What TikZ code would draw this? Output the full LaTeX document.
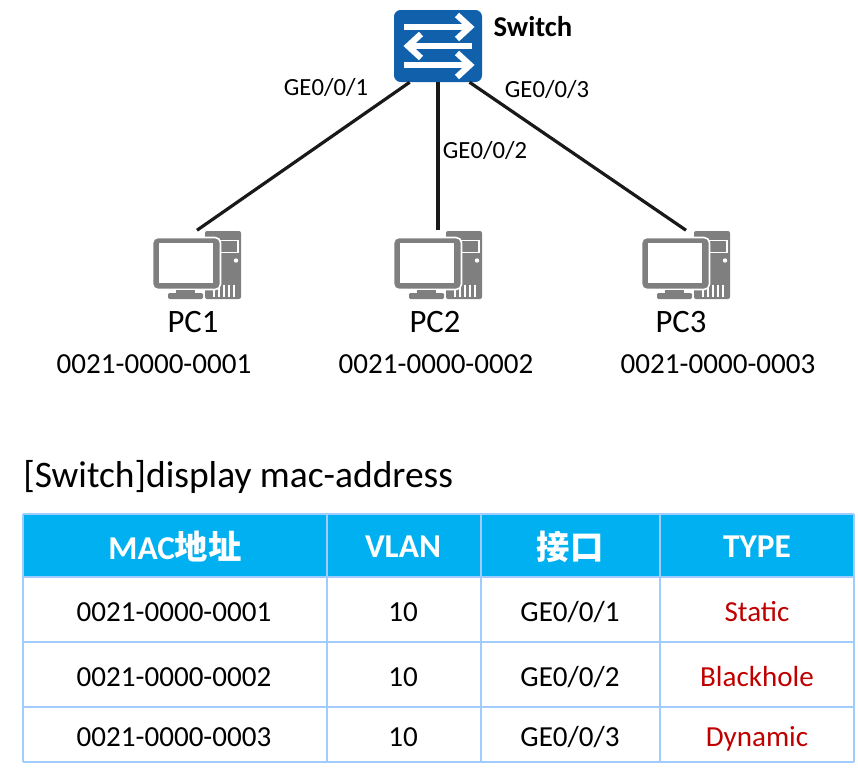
\documentclass[tikz,border=0pt]{standalone}
\usepackage{fontspec}
\setmainfont{Carlito}
\newfontfamily\cjk{Noto Sans CJK SC}
\definecolor{swb}{RGB}{17, 96, 172}
\definecolor{pcg}{RGB}{127, 127, 127}
\definecolor{headb}{RGB}{0, 176, 240}
\definecolor{gridb}{RGB}{160, 204, 255}
\definecolor{typer}{RGB}{192, 0, 0}
\usetikzlibrary{positioning}
\tikzset{
	pcicon/.pic={
		\fill[pcg, rounded corners=1.5pt] (8,-33.5) rectangle (44,34.5);
		\draw[white, line width=0.9pt] (23,-24) rectangle (41,-12);
		\fill[white] (39,-4) circle (2.2);
		\foreach \v in {17,22,27,32,37}
		\draw[white, line width=0.8pt] (\v,20) -- (\v,32);
		\draw[white, line width=1.2pt, fill=pcg, rounded corners=4pt] (-44.5,-27) rectangle (23.5,25);
		\fill[white] (-38,-21.5) rectangle (16,18.5);
		\fill[pcg] (-21,25) rectangle (-2,28);
		\fill[pcg, rounded corners=1pt] (-29,28.5) rectangle (6,34.5);
	}
}
\begin{document}
\begin{tikzpicture}[x=0.75pt, y=-0.75pt,
		switchbox/.style={fill=swb, rounded corners=5pt, minimum width=66pt, minimum height=54pt, inner sep=0pt},
		pcbox/.style={minimum width=66pt, minimum height=51pt, inner sep=0pt},
		swarrow/.style={white, line width=4.6pt, miter limit=10},
		link/.style={draw=black!90, line width=2.4pt},
		port/.style={font=\fontsize{18.5}{20}\selectfont},
		pcname/.style={font=\fontsize{24.5}{26}\selectfont},
		macname/.style={font=\fontsize{21.8}{24}\selectfont},
		headtext/.style={font=\fontsize{25}{27}\selectfont\bfseries, text=white},
		celltext/.style={font=\fontsize{21.8}{24}\selectfont, text height=14pt, text depth=0pt},
		typetext/.style={celltext, text=typer},
		gridline/.style={draw=gridb, line width=1.5pt},
	]
	\useasboundingbox (0,0) rectangle (858,771);
	% switch
	\node[switchbox] (sw) at (438,46) {};
	\draw[swarrow] (404,27) -- (468,27);
	\draw[swarrow] (457,15) -- (470,27) -- (457,39);
	\draw[swarrow] (472,46) -- (410,46);
	\draw[swarrow] (421,34) -- (408,46) -- (421,58);
	\draw[swarrow] (404,65) -- (468,65);
	\draw[swarrow] (457,53) -- (470,65) -- (457,77);
	\node[font=\fontsize{21.5}{23}\selectfont\bfseries] (swname) at (533,27) {Switch};
	% hosts
	\foreach \i/\x/\lx/\mx in {1/197/193/154, 2/438/435/436, 3/686/681/718} {
		\node[pcbox] (pc\i) at (\x,264.5) {};
		\pic at (pc\i) {pcicon};
		\node[pcname] (pcname\i) at (\lx,322) {PC\i};
		\node[macname] (mac\i) at (\mx,364) {0021-0000-000\i};
	}
	\draw[link] (sw.-128) -- (pc1.north);
	\draw[link] (sw.south) -- (pc2.north);
	\draw[link] (sw.-49) -- (pc3.north);
	\node[port] (p1) at (326,87) {GE0/0/1};
	\node[port] (p2) at (485,150) {GE0/0/2};
	\node[port] (p3) at (547,89) {GE0/0/3};
	% table
	\node[anchor=west, inner sep=0pt, font=\fontsize{28.1}{30}\selectfont] (cmd) at (23,477) {[Switch]display mac-address};
	\fill[headb] (23,514) rectangle (854,577);
	\foreach \y in {514,577,642,707,762}
	\draw[gridline] (23,\y) -- (854,\y);
	\foreach \x in {23,327,481,660,854}
	\draw[gridline] (\x,514) -- (\x,762);
	\node[headtext] (h1) at (175,547) {MAC{\cjk 地址}};
	\node[headtext] (h2) at (403,547) {VLAN};
	\node[headtext] (h3) at (570,547) {\cjk 接口};
	\node[headtext] (h4) at (757,547) {TYPE};
	\foreach \i/\y in {1/612, 2/677, 3/737} {
		\node[celltext] (m\i) at (174,\y) {0021-0000-000\i};
		\node[celltext] (v\i) at (403,\y) {10};
		\node[celltext] (g\i) at (570,\y) {GE0/0/\i};
	}
	\node[typetext] (t1) at (757,612) {Static};
	\node[typetext] (t2) at (757,677) {Blackhole};
	\node[typetext] (t3) at (757,737) {Dynamic};
\end{tikzpicture}
\end{document}
